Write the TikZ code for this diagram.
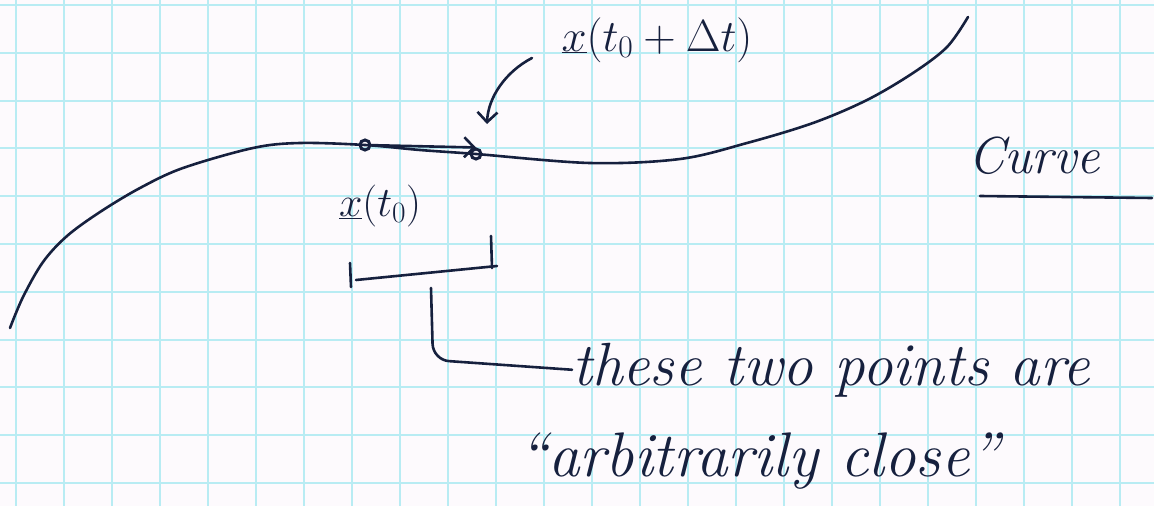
\documentclass[tikz,border=0pt]{standalone}
\usepackage{fix-cm}
\usepackage{fontspec}
\usetikzlibrary{arrows.meta}
\definecolor{ink}{RGB}{22,32,62}
\definecolor{gridcol}{RGB}{184,236,243}
\definecolor{paper}{RGB}{253,250,253}

\begin{document}
\begin{tikzpicture}[x=1pt, y=-1pt,
  inkline/.style={draw=ink, line width=2.6pt, line cap=round, line join=round},
  gridline/.style={draw=gridcol, line width=2pt},
  hand/.style={text=ink, inner sep=0pt},
  dot/.style={circle, draw=ink, line width=3pt, inner sep=0pt, minimum size=10pt},
  barb/.style={-{Straight Barb[length=10pt, width=20pt, line width=2.6pt]}}
]
\useasboundingbox (0,0) rectangle (1154,506);
\fill[paper] (0,0) rectangle (1154,506);

% squared paper
\foreach \gx in {0,...,23}
  \draw[gridline] (16+48*\gx,0) -- (16+48*\gx,506);
\foreach \gy in {5,53,101,148,196,244,292,340,387,435,483}
  \draw[gridline] (0,\gy) -- (1154,\gy);

% the curve
\draw[inkline] plot[smooth, tension=0.55] coordinates {(10,328) (23,297) (43,262) (67,236) (100,212) (140,188) (183,168) (253,148) (300,143) (365,145) (420,150) (476,154) (590,163) (680,159) (747,143) (813,123) (867,100) (913,73) (947,47) (968,17)};

% the two points
\node[dot] (d0) at (365,145) {};
\node[dot] (d1) at (476,154) {};
\draw[inkline, barb] (d0) -- (d1.north);

% labels of the points
\node[hand, font=\fontsize{42}{46}\selectfont] (lx0) at (380,206) {$\underline{x}(t_0)$};
\node[hand, font=\fontsize{45}{50}\selectfont] (lx1) at (657,40) {$\underline{x}(t_0+\Delta t)$};
\coordinate (c0) at (532,58);
\coordinate (c1) at (487,124);
\draw[inkline, barb] (c0) .. controls (505,72) and (488,98) .. (c1);

% curve label
\node[hand, font=\fontsize{52}{56}\selectfont\itshape] (curve) at (1034,156) {Curve};
\coordinate (u0) at (980,196);
\coordinate (u1) at (1152,198);
\draw[inkline] (u0) -- (u1);

% interval between the points
\coordinate (b0) at (350,263);
\coordinate (b1) at (351,287);
\coordinate (b2) at (356,280);
\coordinate (b3) at (497,266);
\coordinate (b4) at (491,236);
\coordinate (b5) at (492,268);
\draw[inkline] (b0) -- (b1);
\draw[inkline] (b2) -- (b3);
\draw[inkline] (b4) -- (b5);

% note
\node[hand, font=\fontsize{61}{66}\selectfont\itshape, anchor=base west] (note1) at (572,385) {these two points are};
\node[hand, font=\fontsize{63}{66}\selectfont\itshape, anchor=base west] (note2) at (518,476) {``arbitrarily close''};
\coordinate (h0) at (431,288);
\draw[inkline, rounded corners=16pt] (h0) -- (433,360) -- (note1.west);

\end{tikzpicture}
\end{document}
